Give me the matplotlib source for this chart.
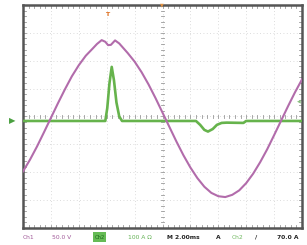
import matplotlib
matplotlib.use("Agg")
import matplotlib.pyplot as plt
from matplotlib.patches import Rectangle

ch1_x = [0.0, 0.25, 0.5, 0.75, 1.0, 1.25, 1.5, 1.75, 2.0, 2.25, 2.5, 2.65, 2.82,
         2.95, 3.05, 3.15, 3.3, 3.45, 3.6, 3.75, 4.0, 4.25, 4.5, 4.75, 5.0,
         5.25, 5.5, 5.75, 6.0, 6.25, 6.5, 6.75, 7.0, 7.25, 7.5, 7.75, 8.0,
         8.25, 8.5, 8.75, 9.0, 9.25, 9.5, 9.75, 10.0]
ch1_y = [-1.97, -1.55, -1.08, -0.57, -0.05, 0.47, 0.97, 1.44, 1.84, 2.18, 2.44,
         2.60, 2.74, 2.68, 2.56, 2.57, 2.73, 2.62, 2.45, 2.28, 1.97, 1.59, 1.15,
         0.66, 0.14, -0.38, -0.90, -1.39, -1.83, -2.21, -2.52, -2.74, -2.86,
         -2.89, -2.81, -2.65, -2.39, -2.05, -1.64, -1.18, -0.67, -0.15, 0.37,
         0.87, 1.33]

# Channel 2 (current, green) sample points
ch2_x = [0.0, 2.95, 3.02, 3.1, 3.18, 3.26, 3.35, 3.45, 3.55, 6.2, 6.35, 6.5,
         6.63, 6.8, 6.95, 7.12, 7.3, 7.9, 8.0, 10.0]
ch2_y = [-0.16, -0.16, 0.3, 1.2, 1.78, 1.3, 0.5, 0.0, -0.16, -0.16, -0.3,
         -0.48, -0.54, -0.45, -0.3, -0.23, -0.22, -0.23, -0.16, -0.16]

status_texts = ["Ch1", "50.0 V", "Ch2", "100 A \u03a9", "M 2.00ms", "A", "Ch2", "/", "70.0 A"]

W, H = 307, 245
fig = plt.figure(figsize=(W / 100, H / 100), dpi=100)
fig.patch.set_facecolor("white")
L, R, T, B = 23, 302, 5, 228
ax = fig.add_axes([L / W, 1 - B / H, (R - L) / W, (B - T) / H])
ax.set_xlim(0, 10)
ax.set_ylim(-4, 4)
ax.set_facecolor("white")

grid_c = "#d0d0d0"
for gx in range(1, 10):
    ax.plot([gx, gx], [-4, 4], color=grid_c, lw=0.6, ls=(0, (1, 3)), zorder=1)
for gy in range(-3, 4):
    ax.plot([0, 10], [gy, gy], color=grid_c, lw=0.6, ls=(0, (1, 3)), zorder=1)
# center axes with minor ticks
tick_c = "#999999"
for i in range(51):
    t = i * 0.2
    ax.plot([t, t], [-0.07, 0.07], color=tick_c, lw=0.6, zorder=1)
    ax.plot([t, t], [3.9, 4.0], color=tick_c, lw=0.6, zorder=1)
    ax.plot([t, t], [-4.0, -3.9], color=tick_c, lw=0.6, zorder=1)
for i in range(41):
    t = -4 + i * 0.2
    ax.plot([4.93, 5.07], [t, t], color=tick_c, lw=0.6, zorder=1)
    ax.plot([0, 0.1], [t, t], color=tick_c, lw=0.6, zorder=1)
    ax.plot([9.9, 10], [t, t], color=tick_c, lw=0.6, zorder=1)

ax.plot(ch2_x, ch2_y, color="#66b34c", lw=1.9, zorder=3, solid_capstyle="round")
ax.plot(ch1_x, ch1_y, color="#b26cab", lw=1.5, zorder=4)

for s in ax.spines.values():
    s.set_color("#555555")
    s.set_linewidth(1.8)
ax.set_xticks([])
ax.set_yticks([])

# markers
fig.text(107 / W, 1 - 15 / H, "T", color="#e07020", fontsize=4.5, ha="center", va="center",
         fontweight="bold")
fig.text(162 / W, 1 - 5 / H, "\u25bc", color="#e09040", fontsize=3.5, ha="center", va="center")
fig.text(12 / W, 1 - 121 / H, "\u25b6", color="#4aa040", fontsize=6, ha="center", va="center")
fig.text(299 / W, 1 - 101 / H, "\u25c0", color="#8abf80", fontsize=3.5, ha="center", va="center")

# status bar
ty = 1 - 237 / H
fs = 4.3
fig.text(23 / W, ty, status_texts[0], color="#a05898", fontsize=fs, va="center")
fig.text(52 / W, ty, status_texts[1], color="#a05898", fontsize=fs, va="center")
fig.patches.append(Rectangle((93 / W, 1 - 242 / H), 13 / W, 10 / H, transform=fig.transFigure,
                             facecolor="#66bb55", edgecolor="none"))
fig.text(99.5 / W, ty, status_texts[2], color="#1d6a1d", fontsize=3.8, va="center", ha="center")
fig.text(128 / W, ty, status_texts[3], color="#60b050", fontsize=fs, va="center")
fig.text(167 / W, ty, status_texts[4], color="#222222", fontsize=fs, va="center", fontweight="bold")
fig.text(216 / W, ty, status_texts[5], color="#222222", fontsize=fs, va="center", fontweight="bold")
fig.text(232 / W, ty, status_texts[6], color="#70b860", fontsize=fs, va="center")
fig.text(255 / W, ty, status_texts[7], color="#222222", fontsize=fs, va="center", fontweight="bold")
fig.text(277 / W, ty, status_texts[8], color="#222222", fontsize=fs, va="center", fontweight="bold")

fig.savefig("out.png", dpi=100, facecolor="white")
